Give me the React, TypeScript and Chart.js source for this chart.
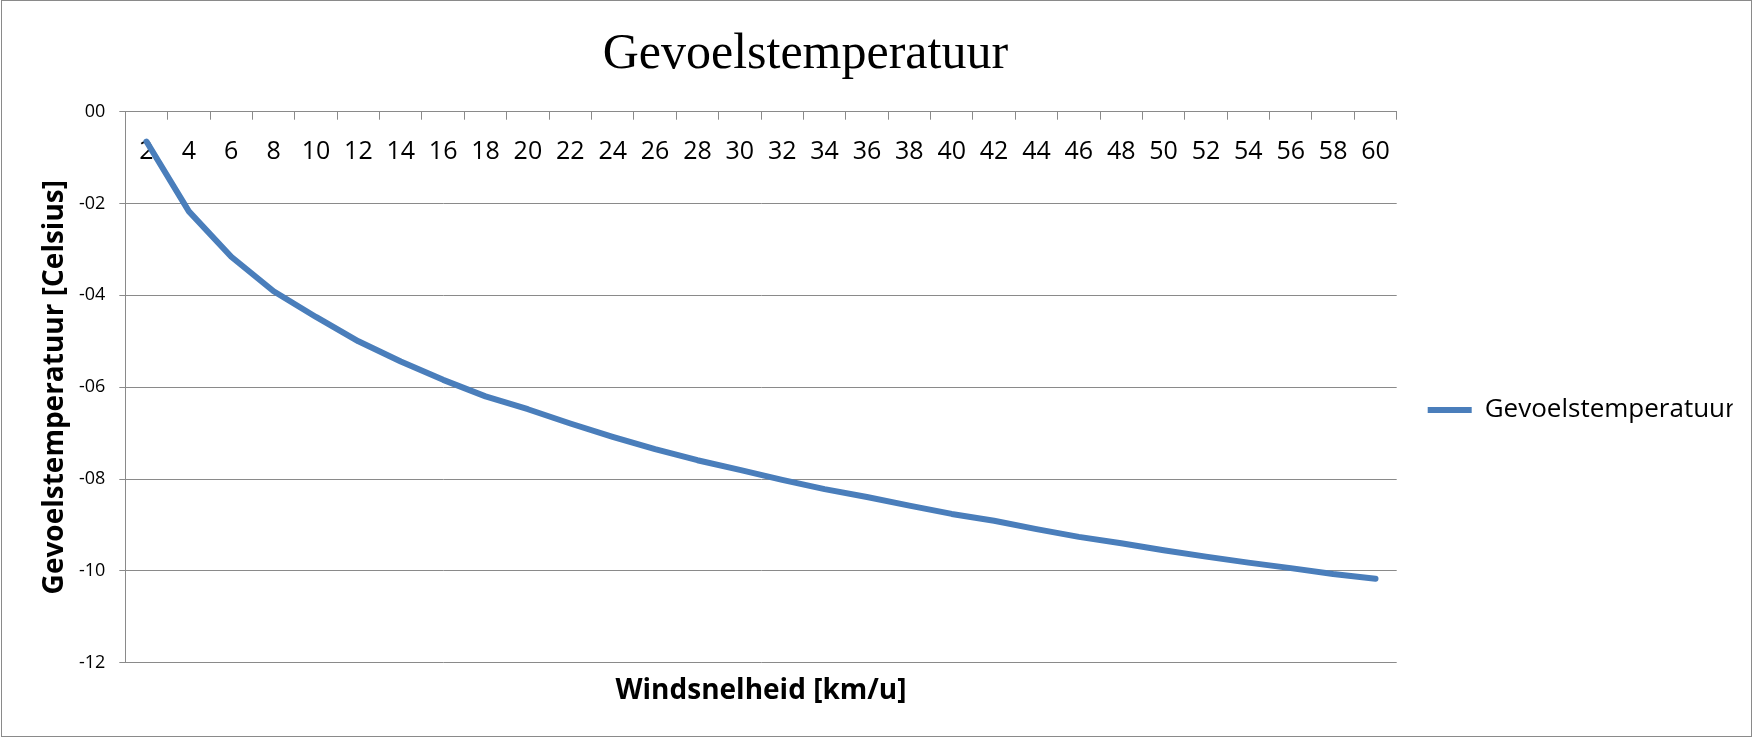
import { useEffect, useRef } from 'react';
import { Chart, registerables } from 'chart.js';
import type { Plugin } from 'chart.js';

Chart.register(...registerables);

// wind speed categories (km/u) and the felt temperature (°C)
const windSpeeds = [2, 4, 6, 8, 10, 12, 14, 16, 18, 20, 22, 24, 26, 28, 30, 32, 34, 36, 38, 40, 42, 44, 46, 48, 50, 52, 54, 56, 58, 60];
const feelsLike = [
  -0.65, -2.17, -3.16, -3.91, -4.47, -5.0, -5.44, -5.84, -6.2, -6.48,
  -6.79, -7.08, -7.35, -7.59, -7.8, -8.02, -8.22, -8.39, -8.58, -8.76,
  -8.91, -9.09, -9.26, -9.4, -9.55, -9.69, -9.82, -9.94, -10.07, -10.17,
];
const yMin = -12;
const yMax = 0;
const yStep = 2;

const SANS = "'Open Sans', 'Noto Sans', sans-serif";
const SERIF = "'Liberation Serif', 'Times New Roman', serif";
const GRID = '#8a8a8a';
const LINE = '#4a7ebb';

// excel-style tick text: 00, -02, -04 ... -12
function fmtTick(v: number): string {
  const n = Math.round(Number(v));
  return (n < 0 ? '-' : '') + String(Math.abs(n)).padStart(2, '0');
}

// Excel centres the title a bit left of the canvas and drops the legend below middle
const placement: Plugin<'line'> = {
  id: 'excelPlacement',
  afterLayout(chart) {
    const c = chart as any;
    if (c.titleBlock) {
      c.titleBlock.left -= 61;
      c.titleBlock.right -= 61;
    }
    if (c.legend) {
      c.legend.top += 41;
      c.legend.bottom += 41;
    }
  },
};

export default function App() {
  const canvasRef = useRef<HTMLCanvasElement>(null);
  const chartRef = useRef<Chart<'line'> | null>(null);

  useEffect(() => {
    document.body.style.margin = '0';
    const canvas = canvasRef.current;
    if (!canvas) return;
    chartRef.current?.destroy();

    chartRef.current = new Chart(canvas, {
      type: 'line',
      data: {
        labels: windSpeeds.map(String),
        datasets: [
          {
            label: 'Gevoelstemperatuur',
            data: feelsLike,
            borderColor: LINE,
            backgroundColor: LINE,
            borderWidth: 6,
            borderCapStyle: 'round',
            borderJoinStyle: 'round',
            pointRadius: 0,
            tension: 0,
            fill: false,
          },
        ],
      },
      options: {
        responsive: true,
        maintainAspectRatio: false,
        animation: false,
        layout: { padding: { left: 0, right: 21.3, top: 0, bottom: 0 } },
        plugins: {
          title: {
            display: true,
            text: 'Gevoelstemperatuur',
            color: '#000',
            font: { family: SERIF, size: 50, weight: 'normal' },
            padding: { top: 25, bottom: 0 },
          },
          legend: {
            position: 'right',
            maxWidth: 336,
            labels: {
              color: '#000',
              font: { family: SANS, size: 26 },
              usePointStyle: true,
              pointStyle: 'line',
              pointStyleWidth: 44,
              boxWidth: 44,
              padding: 31,
            },
          },
          tooltip: { enabled: false },
        },
        scales: {
          x: {
            type: 'category',
            position: 'top',
            offset: true,
            afterFit: (scale) => {
              scale.height = 26.7;
            },
            grid: {
              display: true,
              drawOnChartArea: false,
              drawTicks: true,
              tickLength: -8,
              offset: true,
              color: GRID,
            },
            border: { display: true, color: GRID, width: 1 },
            ticks: {
              mirror: true,
              padding: 25,
              color: '#000',
              autoSkip: false,
              maxRotation: 0,
              font: { family: SANS, size: 25 },
            },
          },
          x2: {
            type: 'category',
            axis: 'x',
            position: 'bottom',
            afterFit: (scale) => {
              scale.height = 75.3;
            },
            grid: { display: false, drawTicks: false },
            border: { display: false },
            ticks: { display: false },
            title: {
              display: true,
              text: 'Windsnelheid [km/u]',
              color: '#000',
              font: { family: SANS, size: 28, weight: 'bold' },
              padding: { top: 0, bottom: 30 },
            },
          },
          y: {
            min: yMin,
            max: yMax,
            afterFit: (scale) => {
              scale.width = 125.3;
            },
            grid: { color: GRID, tickLength: 6, drawTicks: true },
            border: { display: true, color: GRID, width: 1 },
            ticks: {
              stepSize: yStep,
              padding: 14,
              color: '#000',
              font: { family: SANS, size: 18 },
              callback: (v) => fmtTick(Number(v)),
            },
            title: {
              display: true,
              text: 'Gevoelstemperatuur [Celsius]',
              color: '#000',
              font: { family: SANS, size: 28, weight: 'bold' },
              padding: { top: 38, bottom: 0 },
            },
          },
        },
      },
      plugins: [placement],
    });

    return () => {
      chartRef.current?.destroy();
      chartRef.current = null;
    };
  }, []);

  return (
    <div style={{ position: 'relative', width: 1754, height: 738, background: '#fff' }}>
      <div
        style={{
          position: 'absolute',
          left: 1,
          top: 0,
          width: 1751,
          height: 737,
          border: `1px solid ${GRID}`,
          boxSizing: 'border-box',
        }}
      />
      <div style={{ position: 'absolute', inset: 0 }}>
        <canvas ref={canvasRef} aria-label="Gevoelstemperatuur chart" />
      </div>
    </div>
  );
}
